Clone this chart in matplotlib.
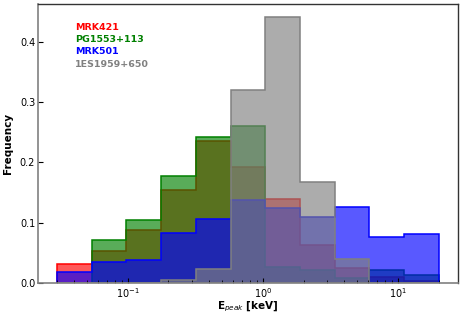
import numpy as np
import matplotlib
matplotlib.use("Agg")
import matplotlib.pyplot as plt
from matplotlib.colors import to_rgba

# bin edges (keV), log spaced
edges = np.logspace(np.log10(0.03), np.log10(20), 12)

sources = ["MRK421", "PG1553+113", "MRK501", "1ES1959+650"]
colors = ["red", "green", "blue", "gray"]

mrk421 = [0.032, 0.054, 0.0875, 0.155, 0.236, 0.1925, 0.139, 0.0637, 0.0244, 0.010, 0.003]
pg1553 = [0.0, 0.071, 0.104, 0.178, 0.243, 0.260, 0.0266, 0.0222, 0.009, 0.022, 0.0133]
mrk501 = [0.018, 0.0355, 0.0377, 0.0837, 0.107, 0.138, 0.124, 0.110, 0.127, 0.076, 0.0813]
es1959 = [0.0, 0.0, 0.0, 0.0045, 0.024, 0.320, 0.4405, 0.1676, 0.040, 0.0, 0.0]

series = [mrk421, pg1553, mrk501, es1959]

plt.rcParams['font.family'] = ['DejaVu Sans']
fig = plt.figure(figsize=(4.63, 3.16), dpi=100)
ax = fig.add_axes([0.082, 0.104, 0.907, 0.883])

centers = np.sqrt(edges[:-1] * edges[1:])
for name, col, vals in zip(sources, colors, series):
    ax.hist(centers, bins=edges, weights=vals, histtype='stepfilled',
            facecolor=to_rgba(col, 0.65), edgecolor=col, linewidth=1.1,
            label=name)

ax.set_xscale('log')
ax.set_yticks([0.0, 0.1, 0.2, 0.3, 0.4])
ax.tick_params(which='both', direction='in', labelsize=7, pad=2)
ax.tick_params(which='major', length=3.5)
ax.tick_params(which='minor', length=2)

for s in ['left', 'bottom']:
    ax.spines[s].set_color('#808080')
    ax.spines[s].set_linewidth(1.2)
for s in ['top', 'right']:
    ax.spines[s].set_color('#333333')
    ax.spines[s].set_linewidth(1.0)

ax.set_ylabel('Frequency', fontsize=7.5, fontweight='bold', labelpad=5)
ax.set_xlabel(r'$\mathbf{E}_{peak}$ [keV]', fontsize=7.5, fontweight='bold', labelpad=0)

leg = ax.legend(loc='upper left', bbox_to_anchor=(0.068, 0.962), frameon=False,
                handlelength=0, handletextpad=0, labelspacing=0.33,
                prop={'weight': 'bold', 'size': 6.8})
for h in leg.legend_handles:
    h.set_visible(False)
for t, c in zip(leg.get_texts(), colors):
    t.set_color(c)

fig.savefig('out.png', dpi=100)
